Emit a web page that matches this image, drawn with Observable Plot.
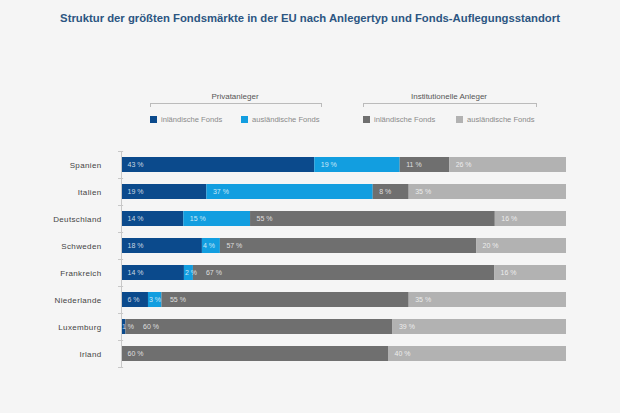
<!DOCTYPE html>
<html>
<head>
<meta charset="utf-8">
<script src="https://cdn.jsdelivr.net/npm/d3@7"></script>
<script src="https://cdn.jsdelivr.net/npm/@observablehq/plot@0.6"></script>
<style>
  html, body { margin: 0; padding: 0; background: #f5f5f5; }
  #wrap { position: relative; width: 620px; height: 413px; font-family: "Liberation Sans", Arial, sans-serif; }
  #wrap svg { position: absolute; left: 0; top: 0; }
  .title { position: absolute; left: 0; width: 620px; top: 12px; text-align: center; font-size: 11.3px; font-weight: bold; color: #2c5582; }
  .hdr { position: absolute; font-size: 8px; color: #555; text-align: center; }
  .bracket { position: absolute; height: 3px; border-top: 1px solid #bbb; border-left: 1px solid #bbb; border-right: 1px solid #bbb; }
  .sw { position: absolute; width: 7px; height: 7px; }
  .lt { position: absolute; font-size: 7.6px; color: #8a8a8a; line-height: 9px; }
  g[aria-label="y-axis tick label"] text { letter-spacing: 0.35px; }
</style>
</head>
<body>
<div id="wrap"></div>
<script>
const countries = ["Spanien","Italien","Deutschland","Schweden","Frankreich","Niederlande","Luxemburg","Irland"];
const privInland  = [43, 19, 14, 18, 14,  6,  1,  0];
const privAusland = [19, 37, 15,  4,  2,  3,  0,  0];
const instInland  = [11,  8, 55, 57, 67, 55, 60, 60];
const instAusland = [26, 35, 16, 20, 16, 35, 39, 40];
const seriesNames = ["Privat inländisch","Privat ausländisch","Institutionell inländisch","Institutionell ausländisch"];
const seriesColors = ["#0b4a8c","#129ee0","#6f6f6f","#b2b2b2"];
const groupTitles = ["Privatanleger","Institutionelle Anleger"];
const legendLabels = ["inländische Fonds","ausländische Fonds","inländische Fonds","ausländische Fonds"];

const W = 620, H = 413, mL = 121, mR = 54, mT = 151, mB = 46;
const plotW = W - mL - mR;

const series = [privInland, privAusland, instInland, instAusland];
const rows = [];
countries.forEach((c, i) => {
  const vals = series.map(s => s[i]);
  const total = d3.sum(vals);
  let cum = 0, prevLabel = -Infinity;
  vals.forEach((v, k) => {
    if (v > 0) {
      const startPx = cum / total * plotW;
      const labelPx = Math.max(startPx + (v < 5 ? 0.5 : 6), prevLabel + 21);
      prevLabel = labelPx;
      rows.push({country: c, series: seriesNames[k], value: v, labelX: labelPx / plotW});
    }
    cum += v;
  });
});

const tick = 3 / plotW;
const chart = Plot.plot({
  width: W, height: H,
  marginLeft: mL, marginRight: mR, marginTop: mT, marginBottom: mB,
  style: {fontFamily: '"Liberation Sans", Arial, sans-serif', background: "transparent", color: "#444"},
  x: {domain: [0, 1], axis: null},
  y: {domain: countries, paddingInner: 0.44, paddingOuter: 0.22, label: null},
  color: {domain: seriesNames, range: seriesColors},
  marks: [
    Plot.barX(rows, Plot.stackX({x: "value", y: "country", fill: "series", z: "series", order: seriesNames, offset: "normalize", inset: 0})),
    Plot.ruleX([0], {stroke: "#c8c8c8", strokeWidth: 1}),
    Plot.ruleY(countries, {y: d => d, x1: -tick, x2: tick * 0.7, dy: -13.5, stroke: "#c8c8c8"}),
    Plot.ruleY(countries.slice(-1), {y: d => d, x1: -tick, x2: tick * 0.7, dy: 13.5, stroke: "#c8c8c8"}),
    Plot.text(rows, {x: "labelX", y: "country", text: d => d.value + " %", textAnchor: "start", fill: "white", fillOpacity: 0.78, fontSize: 7}),
    Plot.axisY({tickSize: 0, tickPadding: 20, fontSize: 8})
  ]
});
const wrap = document.getElementById("wrap");
wrap.appendChild(chart);

function add(cls, css, text) {
  const d = document.createElement("div");
  d.className = cls;
  Object.assign(d.style, css);
  if (text) d.textContent = text;
  wrap.appendChild(d);
}
add("title", {}, "Struktur der größten Fondsmärkte in der EU nach Anlegertyp und Fonds-Auflegungsstandort");
const groups = [{x1: 150, x2: 320}, {x1: 363, x2: 535}];
groups.forEach((g, gi) => {
  add("hdr", {left: g.x1 + "px", width: (g.x2 - g.x1) + "px", top: "92px"}, groupTitles[gi]);
  add("bracket", {left: g.x1 + "px", width: (g.x2 - g.x1) + "px", top: "103px"});
});
const swX = [150, 241, 363, 456];
swX.forEach((x, k) => {
  add("sw", {left: x + "px", top: "116px", background: seriesColors[k]});
  add("lt", {left: (x + 11) + "px", top: "115px"}, legendLabels[k]);
});
</script>
</body>
</html>
